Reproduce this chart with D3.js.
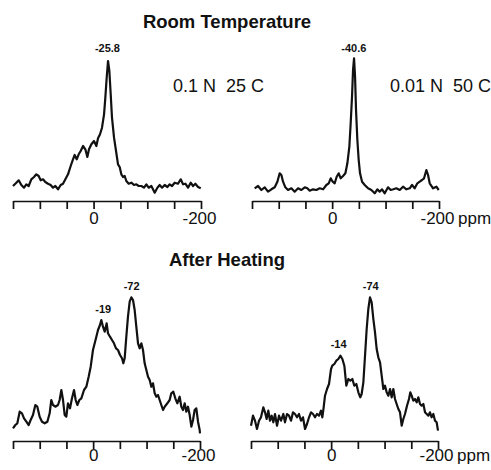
<!DOCTYPE html>
<html>
<head>
<meta charset="utf-8">
<script src="https://cdn.jsdelivr.net/npm/d3@7"></script>
<style>
  html, body { margin: 0; padding: 0; background: #fff; }
  svg { display: block; font-family: "Liberation Sans", Arial, Helvetica, sans-serif; }
</style>
</head>
<body>
<svg id="chart" width="491" height="470"></svg>
<script>
// ---- Data (chemical shift in ppm, intensity in arbitrary units) ----
const rtLowPpm = [150.0,143.8,139.4,134.5,129.5,125.2,120.8,115.9,110.9,106.6,102.2,98.5,94.1,89.8,84.8,79.9,75.5,71.2,66.2,61.2,56.9,52.5,47.6,42.6,38.3,35.2,31.4,27.7,24.0,19.6,15.3,11.6,8.5,4.1,-0.8,-5.2,-8.3,-12.0,-15.7,-19.5,-21.9,-24.4,-26.9,-29.4,-31.9,-34.3,-38.1,-41.8,-45.5,-48.6,-51.7,-54.8,-57.9,-61.0,-65.4,-70.3,-75.3,-79.7,-84.0,-89.0,-93.9,-98.3,-102.6,-107.6,-113.8,-118.8,-123.1,-127.5,-132.4,-137.4,-141.7,-146.1,-151.0,-157.2,-162.2,-166.6,-170.9,-175.9,-180.8,-185.2,-189.5,-194.5,-199.5];
const rtLowInt = [15,18.3,20.7,16,13.3,16.7,15,21.7,24,26.7,25,20.7,21.7,19,17.3,16,13.3,15,11.7,16,17.3,21.7,26.7,35,41.7,46,41.7,46.7,50,55,51.7,44,51.7,56.7,60,55,62.7,66.7,73.3,86.7,103.3,123.3,140,130,106.7,83.3,63.3,50,36.7,34,26.7,24,25,20,17.3,18.3,16,16.7,15,15,13.3,16.7,13.3,15,8.3,13.3,16,13.3,16,14,16.7,15,18.3,17.3,21.7,16.7,17.3,13.3,18.3,15,17.3,14,12.7];

const rtHighPpm = [151.2,145.0,138.7,132.5,126.2,120.0,113.7,107.5,102.5,98.2,95.0,91.9,87.6,82.6,76.3,70.1,63.8,57.6,51.3,46.4,42.0,35.8,29.5,23.3,17.0,10.8,6.4,2.7,-1.0,-4.8,-8.5,-12.3,-16.0,-20.4,-24.8,-28.5,-32.2,-34.7,-37.2,-39.1,-41.0,-42.9,-44.7,-47.2,-49.7,-52.2,-56.0,-61.0,-67.2,-73.4,-79.7,-84.6,-89.0,-93.4,-98.4,-104.6,-109.6,-114.6,-120.2,-126.5,-132.7,-138.9,-145.2,-149.5,-154.5,-159.5,-163.9,-168.2,-172.0,-176.4,-179.5,-182.6,-188.9,-195.1,-199.5];
const rtHighInt = [14.3,12.7,15,11,13.7,9.3,11.7,13.7,19.3,27.7,26,19.3,13.7,11,12.7,9.3,12.7,11,13.7,12.7,10.3,11.7,11,12.7,11.7,16,17.7,22.7,19.3,17.7,24.3,27.7,22.7,25,27.7,37.7,54.3,77.7,104.3,131,142.7,124.3,91,61,41,27.7,19.3,16,12.7,11,7.7,11.7,9.3,11.7,7.7,13.7,11,11.7,12.7,11,14.3,11.7,12.7,16,12.7,17.7,19.3,21,22.7,31,26,17.7,12.7,14.3,11];

const heatLowPpm = [150.0,145.6,141.9,137.5,133.2,129.4,125.0,120.7,117.0,112.6,108.2,104.5,100.1,95.7,90.7,85.7,81.4,78.3,75.1,70.8,65.8,62.7,59.5,56.4,53.3,50.2,47.1,43.3,39.6,35.8,32.7,29.6,25.8,22.1,17.1,12.7,8.4,4.6,0.3,-2.9,-6.0,-9.1,-12.8,-15.3,-18.4,-21.6,-25.3,-27.8,-31.5,-35.3,-39.0,-42.8,-46.5,-50.3,-54.0,-56.5,-59.0,-62.1,-65.2,-68.4,-71.5,-74.6,-77.7,-80.8,-84.0,-87.1,-90.2,-93.3,-96.4,-99.6,-102.7,-105.8,-108.9,-112.0,-115.2,-118.3,-121.4,-124.5,-127.6,-130.8,-133.9,-138.9,-143.2,-146.3,-150.1,-153.8,-157.6,-161.9,-165.1,-168.2,-171.3,-174.4,-177.5,-180.7,-183.8,-186.9,-190.0,-193.1,-196.3,-199.4,-200.0];
const heatLowInt = [12.7,16,17.7,29.3,27.7,22.7,19.3,16,21,26,36,34.3,24.3,19.3,17.7,19.3,27.7,41,36,34.3,36,41,51,41,26,24.3,37.7,32.7,42.7,51,41,36,41,42.7,51,54.3,64.3,74.3,91,97.7,104.3,111,116,121,114.3,109.3,117.7,107.7,104.3,101,97.7,92.7,91,86,82.7,77.7,82.7,104.3,124.3,139.3,143.7,141,131,114.3,97.7,92.7,97.7,91,77.7,71,64.3,61,54.3,57.7,47.7,44.3,46,41,36,31,34.3,37.7,41,47.7,49.3,42.7,37.7,44.3,34.3,31,37.7,29.3,34.3,26,14.3,21,31,32.7,19.3,11,7.7];

const heatHighPpm = [150.0,146.3,142.5,138.8,135.0,131.3,126.9,123.8,120.7,117.6,114.4,111.3,108.2,105.1,101.3,97.6,93.8,89.5,86.4,82.6,78.9,75.1,71.4,67.6,63.9,60.2,56.4,52.7,48.9,45.2,41.4,37.7,33.9,30.2,26.5,22.7,19.0,16.5,14.0,11.5,7.7,4.0,0.2,-2.2,-6.0,-9.7,-13.5,-17.2,-21.0,-24.7,-28.4,-32.2,-35.9,-39.7,-43.4,-47.2,-50.9,-54.6,-57.1,-60.3,-63.4,-66.5,-69.6,-72.7,-75.8,-79.0,-82.1,-85.2,-88.3,-91.5,-94.6,-97.7,-100.8,-103.9,-107.1,-110.2,-113.3,-116.4,-119.5,-122.6,-125.8,-128.9,-132.0,-135.1,-138.2,-142.0,-145.7,-148.2,-150.7,-153.8,-157.0,-160.1,-163.2,-166.3,-169.4,-172.6,-175.7,-178.8,-181.9,-185.0,-188.1,-191.3,-194.4,-197.5,-200.0];
const heatHighInt = [15.3,25.3,20.3,12,20.3,23.7,33.7,28.7,22,30.3,20.3,25.3,18.7,27,15.3,25.3,20.3,27,18.7,27,25.3,20.3,28.7,27,23.7,27,20.3,23.7,12,17,23.7,28.7,27,23.7,27,25.3,30.3,23.7,33.7,45.3,52,57,72,75.3,77,80.3,82,85.3,82,75.3,55.3,62,60.3,62,55.3,57,48.7,43.7,47,58.7,85.3,112,132,143.7,138.7,122,108.7,92,83.7,78.7,65.3,52,55.3,48.7,45.3,52,43.7,52,42,37,32,28.7,15.3,22,27,35.3,42,48.7,45.3,40.3,42,38.7,43.7,37,35.3,37,28.7,27,25.3,28.7,23.7,27,20.3,18.7,10.3];

const tickValues = [150, 100, 50, 0, -50, -100, -150, -200];
const tickLabels = ["", "", "", "0", "", "", "", "-200"];

const titles = ["Room Temperature", "After Heating"];
const conditions = ["0.1 N  25 C", "0.01 N  50 C"];
const peakLabels = [
  [{ppm: -25.8, text: "-25.8", h: 149}],
  [{ppm: -40.6, text: "-40.6", h: 149}],
  [{ppm: -19, text: "-19", h: 128}, {ppm: -72, text: "-72", h: 151}],
  [{ppm: -14, text: "-14", h: 93}, {ppm: -74, text: "-74", h: 151}]
];

// ---- Layout ----
const svg = d3.select("#chart");
svg.append("rect").attr("width", 491).attr("height", 470).attr("fill", "#fff");

const panels = [
  {ppm: rtLowPpm,    val: rtLowInt,    x0: 13,  x1: 201, axisY: 201, labelBase: 224, ppmUnit: false, peaks: peakLabels[0]},
  {ppm: rtHighPpm,   val: rtHighInt,   x0: 252, x1: 439, axisY: 201, labelBase: 224, ppmUnit: true,  peaks: peakLabels[1]},
  {ppm: heatLowPpm,  val: heatLowInt,  x0: 13,  x1: 200, axisY: 441, labelBase: 461, ppmUnit: false, peaks: peakLabels[2]},
  {ppm: heatHighPpm, val: heatHighInt, x0: 251, x1: 438, axisY: 441, labelBase: 461, ppmUnit: true,  peaks: peakLabels[3]}
];

panels.forEach(p => {
  const x = d3.scaleLinear().domain([150, -200]).range([p.x0, p.x1]);
  const y = d3.scaleLinear().domain([0, 150]).range([p.axisY, p.axisY - 150]);
  const g = svg.append("g");

  const pts = p.ppm.map((d, i) => [d, p.val[i]]).filter(d => d[0] <= 150 && d[0] >= -200);
  const line = d3.line().x(d => x(d[0])).y(d => y(d[1]));
  g.append("path").datum(pts)
    .attr("d", line)
    .attr("fill", "none")
    .attr("stroke", "#111")
    .attr("stroke-width", 2.2)
    .attr("stroke-linejoin", "round");

  const axis = d3.axisBottom(x)
    .tickValues(tickValues)
    .tickSize(8)
    .tickSizeOuter(0)
    .tickFormat((d, i) => tickLabels[i]);
  const ag = g.append("g").attr("transform", `translate(0,${p.axisY})`).call(axis);
  ag.select(".domain").attr("stroke", "#111").attr("stroke-width", 1.7);
  ag.selectAll(".tick line").attr("stroke", "#111").attr("stroke-width", 1.7);
  ag.selectAll(".tick text")
    .attr("y", p.labelBase - p.axisY)
    .attr("dy", 0)
    .attr("dx", d => d === -200 ? -2 : 0)
    .attr("fill", "#111")
    .style("font-size", "17px")
    .style("font-family", "'Liberation Sans', Arial, sans-serif");
  if (p.ppmUnit) {
    g.append("text")
      .attr("x", x(-200) + 19)
      .attr("y", p.labelBase)
      .attr("fill", "#111")
      .style("font-size", "17px")
      .text("ppm");
  }

  p.peaks.forEach(pk => {
    g.append("text")
      .attr("x", x(pk.ppm))
      .attr("y", y(pk.h))
      .attr("text-anchor", "middle")
      .attr("fill", "#111")
      .style("font-size", "11px")
      .style("font-weight", "bold")
      .text(pk.text);
  });
});

svg.append("text").attr("x", 227).attr("y", 28).attr("text-anchor", "middle")
  .attr("fill", "#111").style("font-size", "18.5px").style("font-weight", "bold").text(titles[0]);
svg.append("text").attr("x", 227).attr("y", 266).attr("text-anchor", "middle")
  .attr("fill", "#111").style("font-size", "18.5px").style("font-weight", "bold").text(titles[1]);

svg.append("text").attr("x", 173).attr("y", 92).attr("fill", "#111")
  .style("font-size", "18px").style("white-space", "pre").attr("xml:space", "preserve").text(conditions[0]);
svg.append("text").attr("x", 390).attr("y", 92).attr("fill", "#111")
  .style("font-size", "18px").style("white-space", "pre").attr("xml:space", "preserve").text(conditions[1]);
</script>
</body>
</html>
